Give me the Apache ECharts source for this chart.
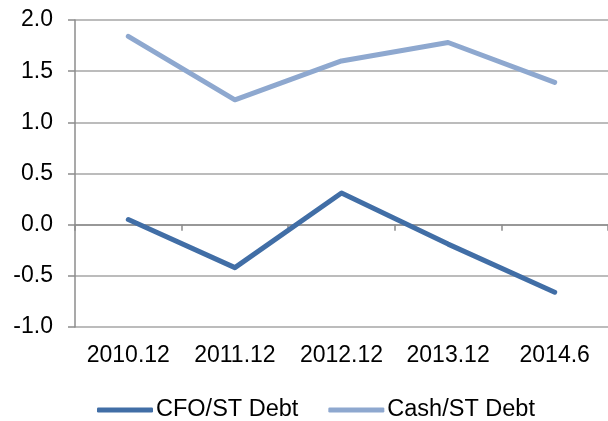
<!DOCTYPE html>
<html><head><meta charset="utf-8">
<script src="https://cdn.jsdelivr.net/npm/echarts@6/dist/echarts.min.js"></script>
<style>html,body{margin:0;padding:0;background:#fff}#c{width:608px;height:421px}</style>
</head><body><div id="c"></div>
<script>
const categories = ['2010.12','2011.12','2012.12','2013.12','2014.6'];
const cfoStDebt = [0.05, -0.42, 0.31, -0.19, -0.66];
const cashStDebt = [1.84, 1.22, 1.60, 1.78, 1.39];
const seriesNames = ['CFO/ST Debt','Cash/ST Debt'];
const font = 'Liberation Sans, Arial, sans-serif';
const chart = echarts.init(document.getElementById('c'), null, {renderer:'canvas'});
chart.setOption({
  animation:false,
  grid:{left:75,right:0,top:20,bottom:94,containLabel:false},
  legend:{
    top:393,left:92,itemWidth:56,itemHeight:5,itemGap:30,
    icon:'roundRect',
    textStyle:{fontFamily:font,fontSize:23.5,color:'#000',padding:[0,0,0,-2]},
    data:seriesNames
  },
  xAxis:[{
    type:'category',data:categories,boundaryGap:true,
    axisLine:{onZero:true,lineStyle:{color:'#8c8c8c',width:1.5}},
    axisTick:{show:true,length:6,inside:false,lineStyle:{color:'#8c8c8c',width:1.5}},
    axisLabel:{show:false},splitLine:{show:false}
  },{
    type:'category',data:categories,boundaryGap:true,position:'bottom',
    axisLine:{show:false,onZero:false},axisTick:{show:false},
    axisLabel:{show:true,interval:0,hideOverlap:false,margin:17,fontFamily:font,fontSize:23,color:'#000'},
    splitLine:{show:false}
  }],
  yAxis:{
    type:'value',min:-1,max:2,interval:0.5,
    axisLine:{show:true,lineStyle:{color:'#8c8c8c',width:1.5}},
    axisTick:{show:true,length:7,lineStyle:{color:'#8c8c8c',width:1.5}},
    axisLabel:{margin:22,fontFamily:font,fontSize:23,color:'#000',formatter:v=>v.toFixed(1)},
    splitLine:{show:true,lineStyle:{color:'#a6a6a6',width:1.5}}
  },
  series:[{
    name:seriesNames[0],type:'line',data:cfoStDebt,xAxisIndex:0,
    symbol:'none',lineStyle:{color:'#416ea6',width:5,cap:'round',join:'round'},
    itemStyle:{color:'#416ea6'}
  },{
    name:seriesNames[1],type:'line',data:cashStDebt,xAxisIndex:0,
    symbol:'none',lineStyle:{color:'#8ea8cf',width:5,cap:'round',join:'round'},
    itemStyle:{color:'#8ea8cf'}
  }]
});
</script></body></html>
